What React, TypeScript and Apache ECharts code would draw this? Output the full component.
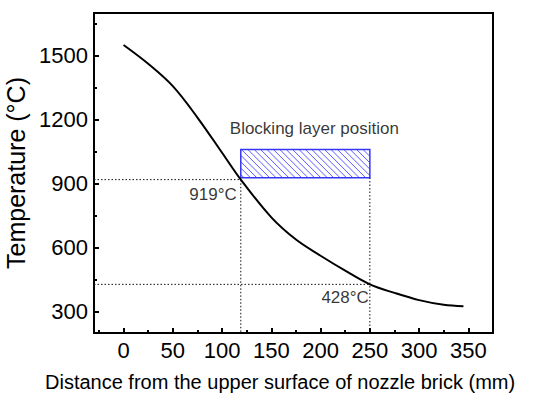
import React, { useEffect, useRef } from "react";
import * as echarts from "echarts";

const FONT = "'Liberation Sans', Arial, sans-serif";

// Curve data
const distance = [0, 25, 50, 75, 100, 119, 150, 175, 200, 225, 250, 275, 300, 325, 345];
const temperature = [1550, 1462, 1357, 1210, 1045, 919, 742, 638, 562, 492, 428, 388, 354, 332, 325];

// Axis ticks
const xTicks = [0, 50, 100, 150, 200, 250, 300, 350];
const xMinorTicks = [-25, 25, 75, 125, 175, 225, 275, 325];
const yTicks = [300, 600, 900, 1200, 1500];
const yMinorTicks = [450, 750, 1050, 1350, 1650];
const xRange = [-30, 375];
const yRange = [200, 1700];

// Blocking layer (x start, x end, T low, T high)
const blockingLayer = [119, 250, 928, 1060];
// Marked points
const markDistances = [119, 250];
const markTemps = [919, 428];

export default function App() {
  const ref = useRef<HTMLDivElement>(null);

  useEffect(() => {
    if (!ref.current) return;
    const chart = echarts.init(ref.current, null, { renderer: "svg" });

    const guide = { color: "#111", width: 1, type: [1.5, 2] as any };
    const plain = (v: number) => String(v);

    const option: any = {
      animation: false,
      backgroundColor: "#fff",
      textStyle: { fontFamily: FONT },
      grid: {
        left: 94,
        top: 13,
        width: 399,
        height: 320,
        show: true,
        borderColor: "#000",
        borderWidth: 2,
        containLabel: false,
        outerBoundsMode: "none",
      },
      xAxis: [
        {
          type: "value",
          min: xRange[0],
          max: xRange[1],
          axisLine: { onZero: false, lineStyle: { color: "#000", width: 2 } },
          axisTick: { inside: true, length: 5, customValues: xTicks, lineStyle: { color: "#000", width: 2 } },
          axisLabel: { customValues: xTicks, formatter: plain, fontSize: 22, color: "#000", margin: 6, fontFamily: FONT },
          splitLine: { show: false },
        },
        {
          type: "value",
          min: xRange[0],
          max: xRange[1],
          position: "bottom",
          axisLine: { show: false, onZero: false },
          axisTick: { inside: true, length: 3, customValues: xMinorTicks, lineStyle: { color: "#000", width: 2 } },
          axisLabel: { show: false },
          splitLine: { show: false },
        },
      ],
      yAxis: [
        {
          type: "value",
          min: yRange[0],
          max: yRange[1],
          name: "Temperature (°C)",
          nameLocation: "middle",
          nameGap: 51,
          nameTextStyle: { fontSize: 25, color: "#000", fontFamily: FONT },
          axisLine: { onZero: false, lineStyle: { color: "#000", width: 2 } },
          axisTick: { inside: true, length: 5, customValues: yTicks, lineStyle: { color: "#000", width: 2 } },
          axisLabel: { customValues: yTicks, formatter: plain, fontSize: 22, color: "#000", margin: 6, fontFamily: FONT },
          splitLine: { show: false },
        },
        {
          type: "value",
          min: yRange[0],
          max: yRange[1],
          position: "left",
          axisLine: { show: false, onZero: false },
          axisTick: { inside: true, length: 3, customValues: yMinorTicks, lineStyle: { color: "#000", width: 2 } },
          axisLabel: { show: false },
          splitLine: { show: false },
        },
      ],
      graphic: [
        {
          type: "text",
          left: 45,
          top: 372,
          style: {
            text: "Distance from the upper surface of nozzle brick (mm)",
            fontSize: 20,
            fill: "#000",
            fontFamily: FONT,
          },
        },
      ],
      series: [
        {
          type: "line",
          data: distance.map((d, i) => [d, temperature[i]]),
          smooth: 0.35,
          symbol: "none",
          lineStyle: { color: "#000", width: 2 },
          z: 5,
        },
        {
          type: "line",
          data: [
            [xRange[0], markTemps[0]],
            [markDistances[0], markTemps[0]],
            [markDistances[0], yRange[0]],
          ],
          symbol: "none",
          lineStyle: guide,
          silent: true,
        },
        {
          type: "line",
          data: [
            [xRange[0], markTemps[1]],
            [markDistances[1], markTemps[1]],
          ],
          symbol: "none",
          lineStyle: guide,
          silent: true,
        },
        {
          type: "line",
          data: [
            [markDistances[1], yRange[0]],
            [markDistances[1], blockingLayer[2]],
          ],
          symbol: "none",
          lineStyle: guide,
          silent: true,
        },
        {
          type: "custom",
          silent: true,
          z: 3,
          data: [blockingLayer],
          encode: { x: [0, 1], y: [2, 3] },
          renderItem: (params: any, api: any) => {
            const tl = api.coord([api.value(0), api.value(3)]);
            const br = api.coord([api.value(1), api.value(2)]);
            const x0 = tl[0], y0 = tl[1], x1 = br[0], y1 = br[1];
            const children: any[] = [];
            const step = 6.4;
            for (let c = x0 - y1 + step / 2; c < x1 - y0; c += step) {
              const ylo = Math.max(y0, x0 - c);
              const yhi = Math.min(y1, x1 - c);
              if (yhi <= ylo) continue;
              children.push({
                type: "line",
                shape: { x1: ylo + c, y1: ylo, x2: yhi + c, y2: yhi },
                style: { stroke: "#5a5aff", lineWidth: 1 },
              });
            }
            children.push({
              type: "rect",
              shape: { x: x0, y: y0, width: x1 - x0, height: y1 - y0 },
              style: { fill: "none", stroke: "#3535f5", lineWidth: 1.5 },
            });
            return { type: "group", children };
          },
        },
        {
          type: "scatter",
          symbolSize: 0,
          silent: true,
          data: [
            {
              value: [markDistances[0], markTemps[0]],
              label: {
                show: true,
                formatter: `${markTemps[0]}°C`,
                position: [-4, 15],
                align: "right",
                verticalAlign: "middle",
                fontSize: 17,
                color: "#000",
                fontFamily: FONT,
              },
            },
            {
              value: [markDistances[1], markTemps[1]],
              label: {
                show: true,
                formatter: `${markTemps[1]}°C`,
                position: [-1, 13],
                align: "right",
                verticalAlign: "middle",
                fontSize: 17,
                color: "#000",
                fontFamily: FONT,
              },
            },
            {
              value: [blockingLayer[0], blockingLayer[3]],
              label: {
                show: true,
                formatter: "Blocking layer position",
                position: [-11, -21],
                align: "left",
                verticalAlign: "middle",
                fontSize: 17,
                color: "#000",
                fontFamily: FONT,
              },
            },
          ],
        },
      ],
    };

    chart.setOption(option);
    return () => chart.dispose();
  }, []);

  return (
    <div
      ref={ref}
      style={{ position: "fixed", left: 0, top: 0, width: 545, height: 393, background: "#fff" }}
    />
  );
}
